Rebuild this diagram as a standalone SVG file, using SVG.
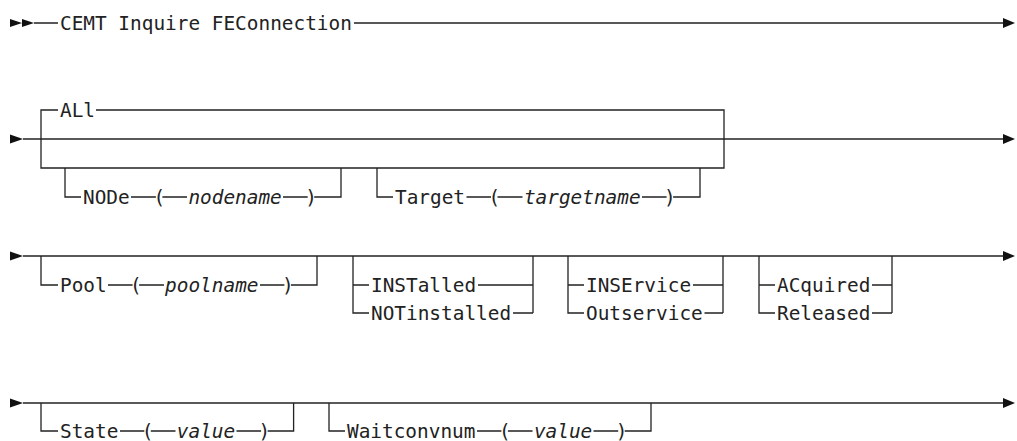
<svg xmlns="http://www.w3.org/2000/svg" width="1017" height="441" viewBox="0 0 1017 441">
<style>
  text { font-family: "DejaVu Sans Mono", "Liberation Mono", monospace; font-size: 19.4px; fill: #222; }
  .v { font-style: italic; }
  .ln { fill: none; stroke: #222; stroke-width: 1.3; }
  .ah { fill: #111; stroke: none; }
</style>
<rect width="1017" height="441" fill="#fff"/>
<defs>
  <path id="start" d="M0,-4.5 L13,0 L0,4.5 Z"/>
  <path id="end" d="M0,-5 L12,0 L0,5 Z"/>
</defs>

<g id="connectors">
  <!-- row 1 -->
  <path class="ah" d="M10,19 L22,23 L10,27 Z M22,19 L34,23 L22,27 Z"/>
  <path class="ln" d="M34,23 H58 M354,23 H1004"/>
  <use href="#end" x="1003" y="23" class="ah"/>
  <!-- row 2 -->
  <use href="#start" x="10" y="139" class="ah"/>
  <path class="ln" d="M23,139 H1004"/>
  <use href="#end" x="1003" y="139" class="ah"/>
  <path class="ln" d="M58,110 H41 V168 H724 V110 H96"/>
  <path class="ln" d="M81,197 H65 V168 M131,197 H155.9 M162.4,197 H187 M283,197 H307.7 M314.2,197 H341 V168"/>
  <path class="ln" d="M393,197 H377 V168 M466.5,197 H491 M497.5,197 H522.5 M642,197 H666.6 M673.1,197 H700 V168"/>
  <!-- row 3 -->
  <use href="#start" x="10" y="256" class="ah"/>
  <path class="ln" d="M23,256 H1004"/>
  <use href="#end" x="1003" y="256" class="ah"/>
  <path class="ln" d="M58,285 H41 V256 M108,285 H132.6 M139.1,285 H164 M260,285 H284.4 M290.9,285 H317 V256"/>
  <path class="ln" d="M353,256 V313 H369 M353,285 H369 M478,285 H533 M513,313 H533 M533,256 V313"/>
  <path class="ln" d="M568,256 V313 H584 M568,285 H584 M693,285 H723 M704.5,313 H723 M723,256 V313"/>
  <path class="ln" d="M759,256 V313 H775 M759,285 H775 M872,285 H892 M872,313 H892 M892,256 V313"/>
  <!-- row 4 -->
  <use href="#start" x="10" y="403" class="ah"/>
  <path class="ln" d="M23,403 H1004"/>
  <use href="#end" x="1003" y="403" class="ah"/>
  <path class="ln" d="M58,431 H41 V403 M120,431 H144.3 M150.8,431 H175.5 M236.5,431 H261.1 M267.6,431 H293.6 V403"/>
  <path class="ln" d="M345,431 H329 V403 M477,431 H501.4 M507.9,431 H532.5 M593.5,431 H618.2 M624.7,431 H651 V403"/>
</g>

<g id="cmd"><text x="60" y="30">CEMT Inquire FEConnection</text></g>
<g id="all"><text x="60" y="117">ALl</text></g>
<g id="node">
  <text x="83" y="204">NODe</text><text x="153.4" y="204">(</text>
  <text class="v" x="188.4" y="204">nodename</text><text x="305.2" y="204">)</text>
</g>
<g id="target">
  <text x="395" y="204">Target</text><text x="488.5" y="204">(</text>
  <text class="v" x="523.9" y="204">targetname</text><text x="664.1" y="204">)</text>
</g>
<g id="pool">
  <text x="60" y="292">Pool</text><text x="130.1" y="292">(</text>
  <text class="v" x="165.1" y="292">poolname</text><text x="281.9" y="292">)</text>
</g>
<g id="installed">
  <text x="371" y="292">INSTalled</text>
  <text x="371" y="320">NOTinstalled</text>
</g>
<g id="inservice">
  <text x="586" y="292">INSErvice</text>
  <text x="586" y="320">Outservice</text>
</g>
<g id="acquired">
  <text x="777" y="292">ACquired</text>
  <text x="777" y="320">Released</text>
</g>
<g id="state">
  <text x="60" y="437.5">State</text><text x="141.8" y="437.5">(</text>
  <text class="v" x="176.8" y="437.5">value</text><text x="258.6" y="437.5">)</text>
</g>
<g id="waitconvnum">
  <text x="347" y="437.5">Waitconvnum</text><text x="498.9" y="437.5">(</text>
  <text class="v" x="533.9" y="437.5">value</text><text x="615.7" y="437.5">)</text>
</g>
</svg>
